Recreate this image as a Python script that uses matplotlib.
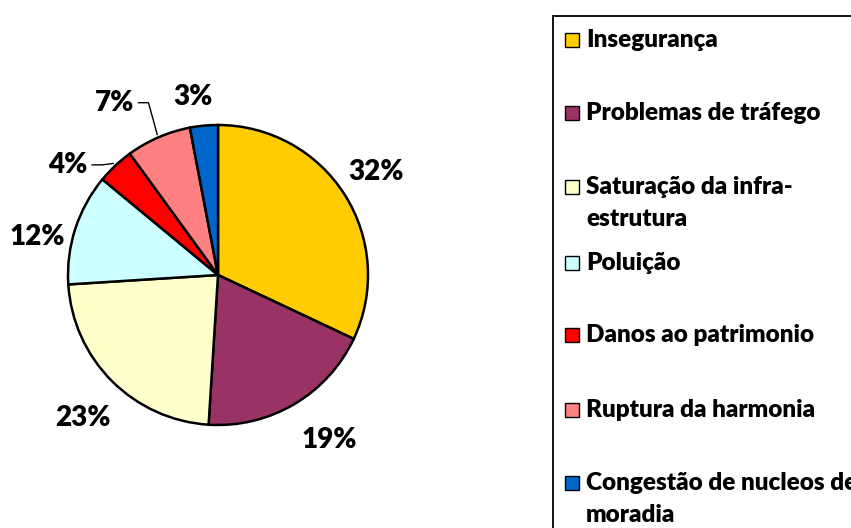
import matplotlib
matplotlib.use("Agg")
import matplotlib.pyplot as plt
from matplotlib.patches import Rectangle
import numpy as np

categories = ["Insegurança", "Problemas de tráfego", "Saturação da infra-\nestrutura",
              "Poluição", "Danos ao patrimonio", "Ruptura da harmonia",
              "Congestão de nucleos de\nmoradia"]
values = [32, 19, 23, 12, 4, 7, 3]
colors = ["#FFCC00", "#993366", "#FFFFCC", "#CCFFFF", "#FF0000", "#FF8080", "#0066CC"]

W, H = 851, 528
plt.rcParams['font.family'] = ['Lato', 'DejaVu Sans']
fig = plt.figure(figsize=(W / 100, H / 100), dpi=100)
ax = fig.add_axes([0, 0, 1, 1])

cx, cy, R = 218, H - 275, 150
wedges, _ = ax.pie(values, colors=colors, startangle=90, counterclock=False,
                   center=(cx, cy), radius=R, frame=True,
                   wedgeprops=dict(edgecolor='black', linewidth=1.8))
ax.set_xlim(0, W)
ax.set_ylim(0, H)
ax.set_aspect('equal')
ax.axis('off')

WEIGHT = 'heavy'
# label placement (radius factor, angle offset in degrees)
lab_r = [1.26, 1.33, 1.31, 1.23, 1.24, 1.34, 1.20]
lab_da = [0.6, 3.4, 1.6, 6, 10.5, 7.6, 2.6]
cum = np.cumsum([0] + values[:-1])
for i, v in enumerate(values):
    mid_deg = 90 - (cum[i] + v / 2) / 100 * 360
    a = np.deg2rad(mid_deg + lab_da[i])
    x = cx + R * lab_r[i] * np.cos(a)
    y = cy + R * lab_r[i] * np.sin(a)
    ax.text(x, y, f"{v}%", ha='center', va='center', fontsize=20, fontweight=WEIGHT)
    if v in (4, 7):
        m = np.deg2rad(mid_deg)
        ex = cx + R * 1.02 * np.cos(m)
        ey = cy + R * 1.02 * np.sin(m)
        tx = x + 24
        ax.plot([tx, tx + 10, ex], [y, y, ey], color='black', lw=1.0)

# legend box (clipped by figure edge, as in the reference)
ax.add_patch(Rectangle((553, -20), 400, H - 16 + 20, fill=False, edgecolor='black',
                       lw=1.3, clip_on=False))
leg_y = [40, 113, 187, 263, 335, 410, 483]
for yy, lab, col in zip(leg_y, categories, colors):
    ax.add_patch(Rectangle((565, H - yy - 7), 14, 14, facecolor=col, edgecolor='black', lw=1.0))
    lines = lab.split('\n')
    for k, ln in enumerate(lines):
        ax.text(586, H - yy - 32 * k, ln, ha='left', va='center', fontsize=17.5,
                fontweight=WEIGHT)

fig.savefig("out.png", dpi=100)
